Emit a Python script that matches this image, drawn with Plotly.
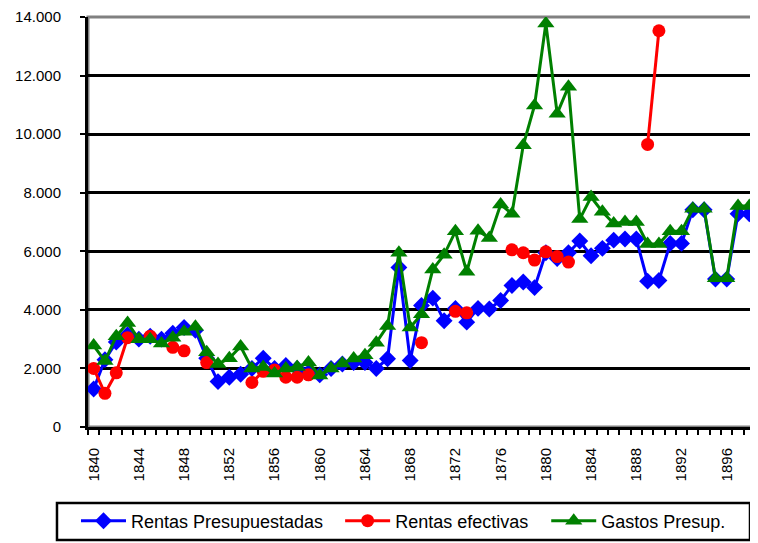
import plotly.graph_objects as go

years = list(range(1840, 1899))

rentas_presupuestadas = [
    1300, 2300, 2900, 3150, 3000, 3100, 3000, 3200, 3400, 3300,
    2350, 1550, 1700, 1800, 2000, 2350, 2000, 2100, 2000, 1850,
    1780, 2000, 2150, 2200, 2200, 2000, 2330, 5450, 2270, 4150,
    4400, 3630, 4050, 3580, 4050, 4030, 4320, 4830, 4950, 4760,
    5950, 5750, 5950, 6350, 5850, 6100, 6380, 6420, 6420, 4980,
    5000, 6270, 6270, 7420, 7420, 5050, 5050, 7280, 7280,
]

rentas_efectivas = [
    2000, 1150, 1850, 3050, None, 3100, None, 2720, 2600, None,
    2200, None, None, None, 1520, 1900, 1950, 1700, 1700, 1780,
    None, None, None, None, None, None, None, None, None, 2880,
    None, None, 3950, 3900, None, None, None, 6050, 5950, 5700,
    5980, 5820, 5630, None, None, None, None, None, None, 9650,
    13530, None, None, None, None, None, None, None, None,
]

gastos_presup = [
    2780, 2250, 3100, 3550, 3000, 3000, 2850, 3050, 3250, 3420,
    2550, 2150, 2350, 2750, 2000, 2050, 1830, 2000, 2050, 2200,
    1760, 2000, 2170, 2340, 2450, 2880, 3450, 5950, 3400, 3850,
    5380, 5880, 6680, 5300, 6700, 6450, 7600, 7280, 9620, 10980,
    13780, 10700, 11620, 7100, 7850, 7350, 6950, 7000, 7000, 6250,
    6250, 6680, 6680, 7450, 7450, 5080, 5080, 7550, 7550,
]

series_names = ["Rentas Presupuestadas", "Rentas efectivas", "Gastos Presup."]
x_tick_years = list(range(1840, 1899, 4))
y_ticks = list(range(0, 14001, 2000))

FONT = "Liberation Sans, Arial, sans-serif"

fig = go.Figure()
fig.add_trace(go.Scatter(
    x=years, y=rentas_presupuestadas, name=series_names[0], mode="lines+markers",
    line=dict(color="#0000FF", width=3),
    marker=dict(symbol="diamond", size=13, color="#0000FF"),
    legend="legend",
))
fig.add_trace(go.Scatter(
    x=years, y=rentas_efectivas, name=series_names[1], mode="lines+markers",
    line=dict(color="#FF0000", width=3), connectgaps=False,
    marker=dict(symbol="circle", size=13, color="#FF0000"),
    legend="legend2",
))
fig.add_trace(go.Scatter(
    x=years, y=gastos_presup, name=series_names[2], mode="lines+markers",
    line=dict(color="#008000", width=3),
    marker=dict(symbol="triangle-up", size=15, color="#008000"),
    legend="legend3",
))

# plot height = 535 - 9 - 116 = 410 px
PH = 410.0
leg_common = dict(
    orientation="h", xanchor="left", y=-94 / PH, yanchor="middle",
    borderwidth=0, bgcolor="rgba(0,0,0,0)",
    font=dict(family=FONT, size=18, color="black"),
    itemwidth=45,
)

# page body has an 8px margin; compensate so the plot lands where the reference has it
fig.update_layout(
    width=750, height=535,
    margin=dict(l=80, r=3, t=9, b=116, autoexpand=False),
    paper_bgcolor="white", plot_bgcolor="white",
    separators=",.",
    font=dict(family=FONT, size=15, color="black"),
    showlegend=True,
    legend=dict(x=-0.018, **leg_common),
    legend2=dict(x=0.378, **leg_common),
    legend3=dict(x=0.687, **leg_common),
    xaxis=dict(
        range=[1839.5, 1898.5], tickmode="array", tickvals=x_tick_years,
        ticktext=[str(v) for v in x_tick_years], tickangle=-90,
        ticks="", showgrid=False, zeroline=False,
        showline=True, linecolor="black", linewidth=3,
        ticklabelstandoff=12,
        minor=dict(tick0=1839.5, dtick=1, ticks="outside", ticklen=5,
                   tickwidth=2, tickcolor="black", showgrid=False),
        tickfont=dict(family=FONT, size=15, color="black"),
    ),
    yaxis=dict(
        range=[0, 14000], tickmode="array", tickvals=y_ticks,
        tickformat=",d", ticklabeloverflow="allow",
        ticks="outside", ticklen=5, tickwidth=2, tickcolor="black",
        showgrid=True, gridcolor="black", gridwidth=2.5,
        zeroline=False, showline=True, linecolor="black", linewidth=3,
        ticklabelstandoff=16,
        tickfont=dict(family=FONT, size=15, color="black"),
    ),
    shapes=[
        dict(type="rect", xref="paper", yref="paper", x0=0, x1=1, y0=0, y1=1,
             line=dict(color="#808080", width=3), layer="below"),
        dict(type="rect", xref="paper", yref="paper",
             x0=-0.0465, x1=0.9925, y0=-113 / PH, y1=-76 / PH,
             line=dict(color="black", width=2.5), fillcolor="rgba(0,0,0,0)"),
    ],
)

fig.write_html("out.html")
